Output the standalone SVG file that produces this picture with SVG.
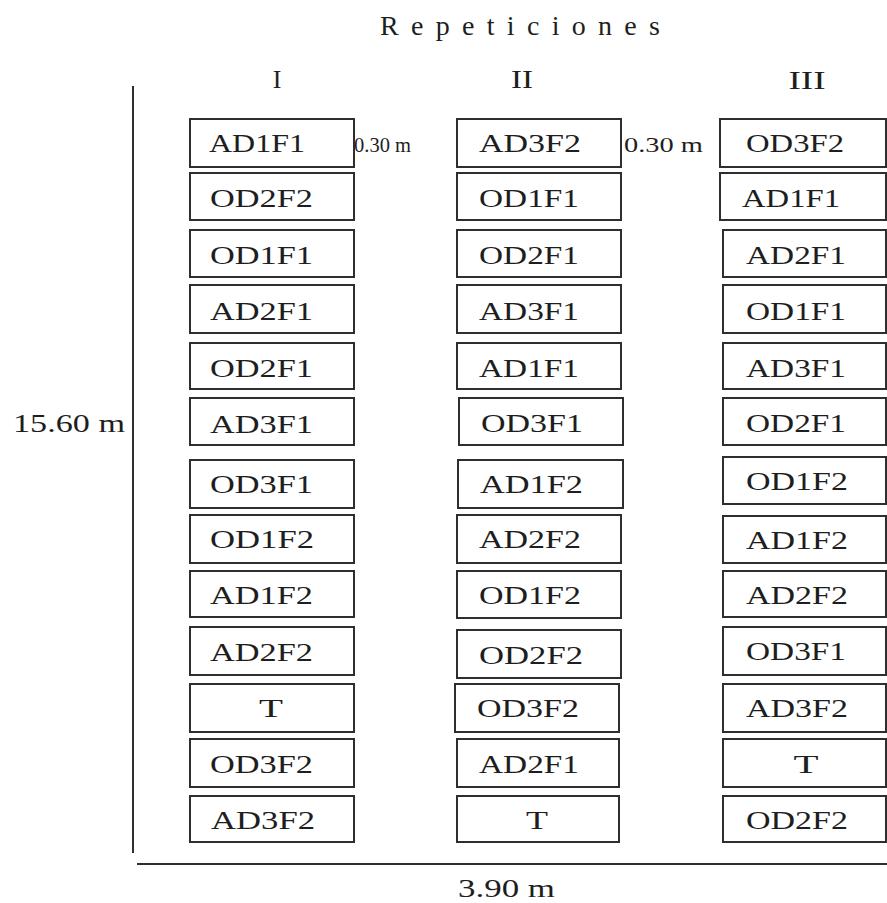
<svg xmlns="http://www.w3.org/2000/svg" width="887" height="903" viewBox="0 0 887 903">
<style>
.bg{fill:#ffffff}
.box{fill:#ffffff;stroke:#2e2e2e;stroke-width:2}
.axis{stroke:#2e2e2e;stroke-width:2;fill:none}
.t{font-family:"Liberation Serif","Times New Roman",serif;fill:#1e1e1e}
.lbl{font-size:25px}
.hdr{font-size:26px}
.ttl{font-size:28px}
.dim{font-size:25px}
.sp{font-size:22px}
</style>
<rect class="bg" x="0" y="0" width="887" height="903"/>
<text class="t ttl" x="380" y="35" textLength="280" lengthAdjust="spacing">Repeticiones</text>
<text class="t hdr" x="277" y="88" text-anchor="middle">I</text>
<text class="t hdr" x="522" y="88" text-anchor="middle" textLength="22" lengthAdjust="spacingAndGlyphs">II</text>
<text class="t hdr" x="807" y="89" text-anchor="middle" textLength="37" lengthAdjust="spacingAndGlyphs">III</text>
<g id="axes">
<line class="axis" x1="133" y1="86" x2="133" y2="853"/>
<line class="axis" x1="137" y1="864" x2="887" y2="864"/>
</g>
<text class="t dim" x="13" y="432" textLength="112" lengthAdjust="spacingAndGlyphs">15.60 m</text>
<text class="t dim" x="458" y="897" textLength="97" lengthAdjust="spacingAndGlyphs">3.90 m</text>
<text class="t sp" x="354" y="152" textLength="57" lengthAdjust="spacingAndGlyphs">0.30 m</text>
<text class="t sp" x="624" y="152" textLength="79" lengthAdjust="spacingAndGlyphs">0.30 m</text>
<g id="col1">
<g id="c1r1"><rect class="box" x="190" y="119" width="164" height="48"/><text class="t lbl" x="209" y="152" textLength="96" lengthAdjust="spacingAndGlyphs">AD1F1</text></g>
<g id="c1r2"><rect class="box" x="190" y="173" width="164" height="47"/><text class="t lbl" x="210" y="207" textLength="103" lengthAdjust="spacingAndGlyphs">OD2F2</text></g>
<g id="c1r3"><rect class="box" x="190" y="230" width="164" height="47"/><text class="t lbl" x="210" y="264" textLength="103" lengthAdjust="spacingAndGlyphs">OD1F1</text></g>
<g id="c1r4"><rect class="box" x="190" y="285" width="164" height="48"/><text class="t lbl" x="210" y="320" textLength="103" lengthAdjust="spacingAndGlyphs">AD2F1</text></g>
<g id="c1r5"><rect class="box" x="190" y="343" width="164" height="46"/><text class="t lbl" x="210" y="377" textLength="103" lengthAdjust="spacingAndGlyphs">OD2F1</text></g>
<g id="c1r6"><rect class="box" x="190" y="398" width="164" height="47"/><text class="t lbl" x="210" y="433" textLength="103" lengthAdjust="spacingAndGlyphs">AD3F1</text></g>
<g id="c1r7"><rect class="box" x="190" y="460" width="164" height="48"/><text class="t lbl" x="210" y="493" textLength="103" lengthAdjust="spacingAndGlyphs">OD3F1</text></g>
<g id="c1r8"><rect class="box" x="190" y="515" width="164" height="48"/><text class="t lbl" x="210" y="548" textLength="104" lengthAdjust="spacingAndGlyphs">OD1F2</text></g>
<g id="c1r9"><rect class="box" x="190" y="571" width="164" height="46"/><text class="t lbl" x="210" y="604" textLength="103" lengthAdjust="spacingAndGlyphs">AD1F2</text></g>
<g id="c1r10"><rect class="box" x="190" y="627" width="164" height="48"/><text class="t lbl" x="210" y="661" textLength="103" lengthAdjust="spacingAndGlyphs">AD2F2</text></g>
<g id="c1r11"><rect class="box" x="190" y="684" width="164" height="48"/><text class="t lbl" x="271" y="717" text-anchor="middle" textLength="24" lengthAdjust="spacingAndGlyphs">T</text></g>
<g id="c1r12"><rect class="box" x="190" y="739" width="164" height="48"/><text class="t lbl" x="210" y="773" textLength="103" lengthAdjust="spacingAndGlyphs">OD3F2</text></g>
<g id="c1r13"><rect class="box" x="190" y="796" width="164" height="46"/><text class="t lbl" x="211" y="829" textLength="104" lengthAdjust="spacingAndGlyphs">AD3F2</text></g>
</g>
<g id="col2">
<g id="c2r1"><rect class="box" x="457" y="119" width="164" height="48"/><text class="t lbl" x="479" y="152" textLength="102" lengthAdjust="spacingAndGlyphs">AD3F2</text></g>
<g id="c2r2"><rect class="box" x="457" y="173" width="164" height="47"/><text class="t lbl" x="479" y="207" textLength="100" lengthAdjust="spacingAndGlyphs">OD1F1</text></g>
<g id="c2r3"><rect class="box" x="457" y="230" width="164" height="47"/><text class="t lbl" x="479" y="264" textLength="100" lengthAdjust="spacingAndGlyphs">OD2F1</text></g>
<g id="c2r4"><rect class="box" x="457" y="285" width="164" height="48"/><text class="t lbl" x="479" y="320" textLength="100" lengthAdjust="spacingAndGlyphs">AD3F1</text></g>
<g id="c2r5"><rect class="box" x="457" y="343" width="164" height="46"/><text class="t lbl" x="479" y="377" textLength="100" lengthAdjust="spacingAndGlyphs">AD1F1</text></g>
<g id="c2r6"><rect class="box" x="459" y="398" width="164" height="47"/><text class="t lbl" x="481" y="432" textLength="102" lengthAdjust="spacingAndGlyphs">OD3F1</text></g>
<g id="c2r7"><rect class="box" x="458" y="460" width="165" height="48"/><text class="t lbl" x="480" y="493" textLength="103" lengthAdjust="spacingAndGlyphs">AD1F2</text></g>
<g id="c2r8"><rect class="box" x="457" y="515" width="164" height="48"/><text class="t lbl" x="479" y="548" textLength="102" lengthAdjust="spacingAndGlyphs">AD2F2</text></g>
<g id="c2r9"><rect class="box" x="457" y="571" width="164" height="47"/><text class="t lbl" x="479" y="604" textLength="102" lengthAdjust="spacingAndGlyphs">OD1F2</text></g>
<g id="c2r10"><rect class="box" x="457" y="630" width="164" height="48"/><text class="t lbl" x="479" y="664" textLength="104" lengthAdjust="spacingAndGlyphs">OD2F2</text></g>
<g id="c2r11"><rect class="box" x="455" y="684" width="164" height="48"/><text class="t lbl" x="477" y="717" textLength="102" lengthAdjust="spacingAndGlyphs">OD3F2</text></g>
<g id="c2r12"><rect class="box" x="457" y="739" width="162" height="48"/><text class="t lbl" x="479" y="773" textLength="100" lengthAdjust="spacingAndGlyphs">AD2F1</text></g>
<g id="c2r13"><rect class="box" x="457" y="796" width="162" height="46"/><text class="t lbl" x="537" y="829" text-anchor="middle" textLength="22" lengthAdjust="spacingAndGlyphs">T</text></g>
</g>
<g id="col3">
<g id="c3r1"><rect class="box" x="720" y="119" width="166" height="48"/><text class="t lbl" x="746" y="152" textLength="98" lengthAdjust="spacingAndGlyphs">OD3F2</text></g>
<g id="c3r2"><rect class="box" x="720" y="173" width="166" height="47"/><text class="t lbl" x="742" y="207" textLength="98" lengthAdjust="spacingAndGlyphs">AD1F1</text></g>
<g id="c3r3"><rect class="box" x="723" y="230" width="163" height="47"/><text class="t lbl" x="746" y="264" textLength="100" lengthAdjust="spacingAndGlyphs">AD2F1</text></g>
<g id="c3r4"><rect class="box" x="723" y="285" width="163" height="48"/><text class="t lbl" x="746" y="320" textLength="100" lengthAdjust="spacingAndGlyphs">OD1F1</text></g>
<g id="c3r5"><rect class="box" x="723" y="343" width="163" height="46"/><text class="t lbl" x="746" y="377" textLength="100" lengthAdjust="spacingAndGlyphs">AD3F1</text></g>
<g id="c3r6"><rect class="box" x="723" y="398" width="163" height="47"/><text class="t lbl" x="746" y="432" textLength="100" lengthAdjust="spacingAndGlyphs">OD2F1</text></g>
<g id="c3r7"><rect class="box" x="723" y="457" width="163" height="47"/><text class="t lbl" x="746" y="490" textLength="102" lengthAdjust="spacingAndGlyphs">OD1F2</text></g>
<g id="c3r8"><rect class="box" x="723" y="516" width="163" height="47"/><text class="t lbl" x="746" y="549" textLength="102" lengthAdjust="spacingAndGlyphs">AD1F2</text></g>
<g id="c3r9"><rect class="box" x="723" y="571" width="163" height="46"/><text class="t lbl" x="746" y="604" textLength="102" lengthAdjust="spacingAndGlyphs">AD2F2</text></g>
<g id="c3r10"><rect class="box" x="723" y="627" width="163" height="48"/><text class="t lbl" x="746" y="660" textLength="100" lengthAdjust="spacingAndGlyphs">OD3F1</text></g>
<g id="c3r11"><rect class="box" x="723" y="684" width="163" height="48"/><text class="t lbl" x="746" y="717" textLength="102" lengthAdjust="spacingAndGlyphs">AD3F2</text></g>
<g id="c3r12"><rect class="box" x="723" y="739" width="163" height="48"/><text class="t lbl" x="806" y="773" text-anchor="middle" textLength="25" lengthAdjust="spacingAndGlyphs">T</text></g>
<g id="c3r13"><rect class="box" x="723" y="796" width="163" height="46"/><text class="t lbl" x="746" y="829" textLength="102" lengthAdjust="spacingAndGlyphs">OD2F2</text></g>
</g>
</svg>
